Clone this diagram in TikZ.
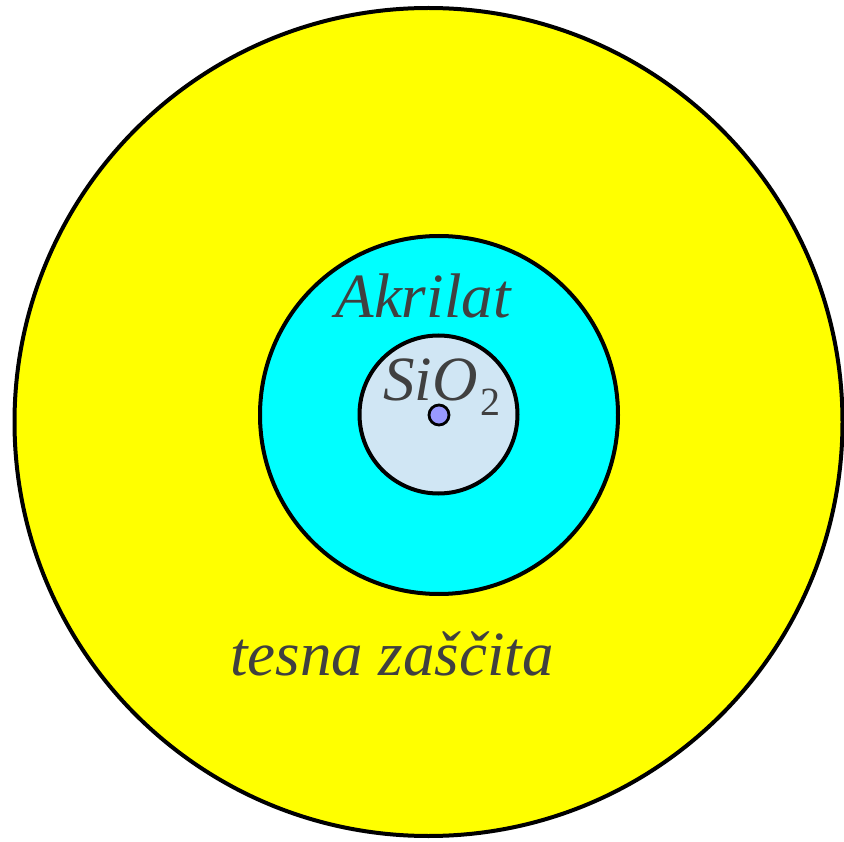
\documentclass[tikz,border=0pt]{standalone}
\usepackage{fontspec}
\newfontfamily\timesfont{Liberation Serif}
\definecolor{ringyellow}{HTML}{FFFF00}
\definecolor{ringcyan}{HTML}{00FFFF}
\definecolor{corefill}{HTML}{D0E6F4}
\definecolor{dotfill}{HTML}{9999FF}
\definecolor{txt}{HTML}{404040}
\tikzset{
  ring/.style={draw=black, line width=4pt},
  lbl/.style={text=txt, font=\timesfont\itshape\fontsize{63}{72}\selectfont, inner sep=0pt, anchor=base},
}
\begin{document}
\begin{tikzpicture}[x=1pt,y=-1pt]
\useasboundingbox (0,0) rectangle (844,842);
\fill[white] (0,0) rectangle (844,842);
\node[ring, fill=ringyellow, circle, minimum size=828pt, inner sep=0pt] (outer) at (428.5,422) {};
\node[ring, fill=ringcyan, circle, minimum size=358pt, inner sep=0pt] (clad) at (439,415) {};
\node[ring, fill=corefill, circle, minimum size=158pt, inner sep=0pt] (core) at (438.5,414.5) {};
\node[draw=black, line width=2.8pt, fill=dotfill, circle, minimum size=20pt, inner sep=0pt] (dot) at (439,415) {};
\node[lbl] (akr) at (423,318) {Akrilat};
\node[lbl] (tes) at (392,675) {tesna zaščita};
\node[lbl, anchor=base west] (sio) at (383,401) {SiO\kern3pt\raisebox{-15pt}{\upshape\fontsize{40}{48}\selectfont 2}};
\end{tikzpicture}
\end{document}
